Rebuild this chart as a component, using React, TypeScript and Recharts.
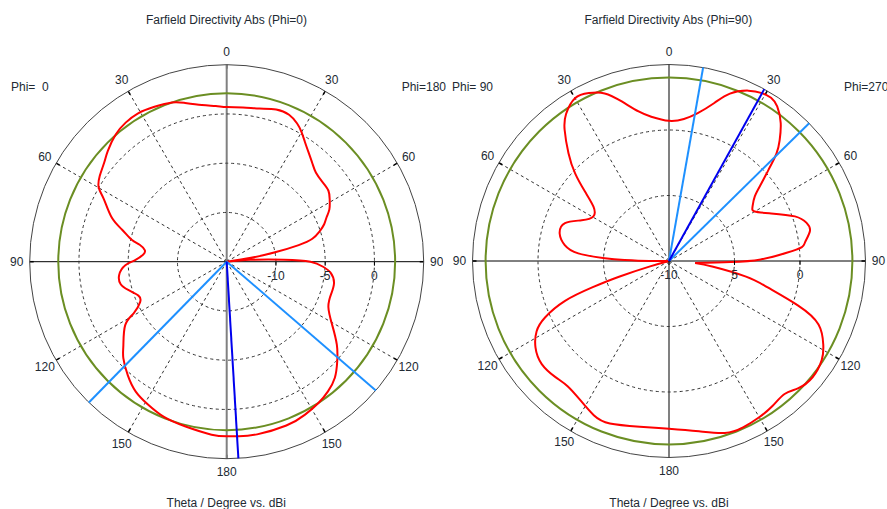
import React from 'react';
import { ScatterChart, Scatter, XAxis, YAxis, ReferenceLine, ReferenceDot } from 'recharts';

// angle = position on the dial, clockwise from the top (0..180 right half, 180..360 left half)

// Phi=0 / Phi=180 cut
const cut0Angle = [
  0, 6, 12, 18, 23, 27, 30, 33, 36, 41, 45, 50, 55, 59, 63, 66, 69, 72, 75, 77, 79, 81, 83,
  85.5, 88, 90, 93, 96, 101, 107, 114, 121, 127, 132, 137, 142, 147, 153, 160, 170, 176, 180,
  185, 194, 202, 209, 215, 221, 227, 231, 238, 241, 245, 249, 254, 258, 263, 268, 271, 275,
  278, 281, 283, 287, 291, 297, 300, 304, 309, 313, 319, 324, 329, 335, 341, 345, 351, 356,
];
const cut0Dbi = [
  0.7, 0.75, 0.9, 1.25, 1.2, 0.75, 0.2, -0.45, -1.0, -1.75, -2.2, -2.35, -2.4, -2.8, -3.3, -3.9,
  -4.4, -5.1, -6.0, -7.5, -10.0, -12.5, -15.0, -12.6, -9.2, -6.5, -5.2, -4.4, -3.9, -3.9, -3.7,
  -2.5, -1.0, 0.1, 1.1, 1.7, 2.1, 2.45, 2.7, 2.8, 2.77, 2.73, 2.63, 2.25, 2.0, 1.55, 1.1, 0.3,
  -0.65, -1.5, -2.85, -4.2, -5.3, -5.4, -4.6, -4.0, -4.0, -4.7, -5.7, -6.5, -6.6, -6.0, -5.1,
  -3.9, -2.5, -1.0, 0.0, 0.55, 1.0, 1.5, 2.15, 2.45, 2.55, 2.35, 2.1, 1.7, 1.1, 0.85,
];
// nulls where the trace has a corner
const cut0Nulls = [83];

// Phi=90 / Phi=270 cut
const cut90Angle = [
  0, 6, 11, 16, 20, 25, 29, 32, 35, 39, 42.5, 45, 47.5, 50, 53, 57, 60, 65, 70.5, 74.5, 78, 82,
  84, 86, 89, 91, 94.5, 97.5, 101.5, 105, 109, 113, 118.5, 123, 129, 134.5, 139, 144.5, 150, 156,
  162, 170, 180, 190, 200, 206, 212.5, 219, 224.5, 231, 237, 242, 245.5, 249, 251, 252.5, 254,
  256, 268, 270, 271.3, 272.4, 274.8, 278.7, 284, 290, 295, 300.5, 305.7, 309.5, 313, 317, 321.5,
  325, 330, 334.5, 339, 343.5, 348.5, 353,
];
const cut90Dbi = [
  0.7, 0.9, 1.5, 2.55, 3.6, 4.35, 4.65, 4.7, 4.4, 3.55, 2.5, 1.6, 0.3, -0.8, -1.8, -2.4, -2.45,
  -1.4, 0.2, 0.9, 1.0, 0.5, 0.2, -1.0, -3.0, -5.3, -8.0, -6.6, -4.0, -2.2, 0.4, 2.4, 3.4, 3.9,
  4.1, 3.85, 3.45, 3.6, 3.77, 3.9, 3.8, 3.2, 2.8, 2.84, 3.2, 3.1, 2.6, 2.3, 2.4, 2.5, 2.15, 1.45,
  0.4, -1.5, -3.8, -6.0, -8.5, -10, -10, -8.5, -6.6, -5.1, -3.05, -1.95, -1.4, -1.55, -2.65,
  -3.3, -2.9, -1.7, -0.2, 1.25, 2.8, 3.7, 4.35, 4.2, 3.7, 2.7, 1.65, 1.1,
];
const cut90Nulls = [94.5, 256, 268];

// main lobe direction and 3 dB angular width
const cut0Main = 176.6;
const cut0Width = [130.8, 224.4];
const cut90Main = 29;
const cut90Width = [10, 45.5];

// green level circle (dBi)
const cut0Level = 2.1;
const cut90Level = 4.0;

const thetaTicks = [0, 30, 60, 90, 120, 150, 180, 210, 240, 270, 300, 330];
const dashedSpokes = [30, 60, 120, 150, 210, 240, 300, 330];
const radialTicks = [-10, -5, 0];
const cut0RadialLabels = ['-10', '-5', '0'];
const cut90RadialLabels = ['-10', '5', '0'];

const H = 509;
const FONT = "'Liberation Sans', Arial, sans-serif";
const INK = '#222a33';

const toPoint = (angle: number, level: number) => {
  const t = (angle * Math.PI) / 180;
  return { x: level * Math.sin(t), y: level * Math.cos(t) };
};

// walk the closed trace starting at the first null, cutting it at every null
const splitTrace = (angles: number[], dbi: number[], nulls: number[]) => {
  const n = angles.length;
  const start = angles.indexOf(nulls[0]);
  const segs: { a: number; v: number }[][] = [[]];
  for (let k = 0; k <= n; k++) {
    const i = (start + k) % n;
    const p = { a: angles[i], v: dbi[i] };
    segs[segs.length - 1].push(p);
    if (k > 0 && k < n && nulls.includes(p.a)) segs.push([p]);
  }
  return segs;
};

const NoMark = () => <g />;

const ThetaLabel = (props: any) => (
  <text x={props.cx} y={props.cy} textAnchor="middle" dominantBaseline="central"
    fontSize={12} fontFamily={FONT} fill={INK}>{props.payload.label}</text>
);

const RadialLabel = (props: any) => (
  <g>
    <line x1={props.cx} y1={props.cy} x2={props.cx} y2={props.cy + 4} stroke="#000" />
    <text x={props.cx} y={props.cy + 14} textAnchor="middle" dominantBaseline="central"
      fontSize={12} fontFamily={FONT} fill={INK}>{props.payload.label}</text>
  </g>
);

interface PanelSpec {
  width: number;
  cx: number;
  cy: number;
  radius: number;
  minDb: number;
  maxDb: number;
  angles: number[];
  dbi: number[];
  nulls: number[];
  level: number;
  main: number;
  beam: number[];
  radialLabels: string[];
}

const PolarPanel = ({ spec }: { spec: PanelSpec }) => {
  const span = spec.maxDb - spec.minDb;
  const norm = (db: number) => (Math.max(db, spec.minDb) - spec.minDb) / span;
  const traces = splitTrace(spec.angles, spec.dbi, spec.nulls).map((seg) =>
    seg.map((p) => toPoint(p.a, norm(p.v))),
  );

  const R = spec.radius;
  const xDomain = [-spec.cx / R, (spec.width - spec.cx) / R];
  const yDomain = [-(H - spec.cy) / R, spec.cy / R];
  const labelR = 1 + 13 / R;
  const tickIn = 1 - 4 / R;
  const thetaData = thetaTicks.map((a) => ({
    ...toPoint(a, labelR),
    label: String(a <= 180 ? a : 360 - a),
  }));
  const radialData = radialTicks.map((t, i) => ({ x: norm(t), y: 0, label: spec.radialLabels[i] }));
  const rings = radialTicks.filter((t) => t > spec.minDb);
  const ray = (a: number) => [{ x: 0, y: 0 }, toPoint(a, 1)];

  return (
    <ScatterChart width={spec.width} height={H} margin={{ top: 0, right: 0, bottom: 0, left: 0 }}>
      <XAxis type="number" dataKey="x" domain={xDomain} hide allowDataOverflow />
      <YAxis type="number" dataKey="y" domain={yDomain} hide allowDataOverflow />
      {rings.map((t) => (
        <ReferenceDot key={'ring' + t} x={0} y={0} r={norm(t) * R} fill="none"
          stroke="#333" strokeDasharray="3 3" ifOverflow="visible" />
      ))}
      {dashedSpokes.map((a) => (
        <ReferenceLine key={'sp' + a} segment={ray(a)} stroke="#333" strokeDasharray="3 3" ifOverflow="visible" />
      ))}
      {thetaTicks.map((a) => (
        <ReferenceLine key={'tk' + a} segment={[toPoint(a, tickIn), toPoint(a, 1)]} stroke="#000"
          strokeWidth={1.5} ifOverflow="visible" />
      ))}
      <ReferenceDot x={0} y={0} r={R} fill="none" stroke="#444" ifOverflow="visible" />
      <ReferenceLine segment={[toPoint(0, 1), toPoint(180, 1)]} stroke="#808080" strokeWidth={2} ifOverflow="visible" />
      <ReferenceLine segment={[toPoint(270, 1), toPoint(90, 1)]} stroke="#000" ifOverflow="visible" />
      <ReferenceDot x={0} y={0} r={norm(spec.level) * R} fill="none" stroke="#6b8e23" strokeWidth={2} ifOverflow="visible" />
      {traces.map((seg, i) => (
        <Scatter key={'tr' + i} data={seg} fill="#ff0000" line={{ stroke: '#ff0000', strokeWidth: 2 }}
          lineJointType="natural" shape={NoMark} isAnimationActive={false} />
      ))}
      {spec.beam.map((a) => (
        <Scatter key={'bw' + a} data={ray(a)} fill="#1e90ff" line={{ stroke: '#1e90ff', strokeWidth: 2 }}
          shape={NoMark} isAnimationActive={false} />
      ))}
      <Scatter data={ray(spec.main)} fill="#0000ee" line={{ stroke: '#0000ee', strokeWidth: 2 }}
        shape={NoMark} isAnimationActive={false} />
      <Scatter data={thetaData} shape={ThetaLabel} isAnimationActive={false} />
      <Scatter data={radialData} shape={RadialLabel} isAnimationActive={false} />
    </ScatterChart>
  );
};

const textStyle: React.CSSProperties = {
  position: 'absolute',
  fontFamily: FONT,
  fontSize: 12,
  lineHeight: '14px',
  color: INK,
  whiteSpace: 'pre',
};

const Centered = ({ x, y, children }: { x: number; y: number; children: string }) => (
  <div style={{ ...textStyle, left: x, top: y - 7, transform: 'translateX(-50%)' }}>{children}</div>
);

const App = () => (
  <div style={{ position: 'absolute', left: 0, top: 0, width: 887, height: H, overflow: 'hidden', background: '#fff' }}>
    <div style={{ position: 'absolute', left: 0, top: 0 }}>
      <PolarPanel spec={{
        width: 443, cx: 226.7, cy: 261.7, radius: 197, minDb: -15, maxDb: 5,
        angles: cut0Angle, dbi: cut0Dbi, nulls: cut0Nulls, level: cut0Level, main: cut0Main,
        beam: cut0Width, radialLabels: cut0RadialLabels,
      }} />
    </div>
    <div style={{ position: 'absolute', left: 443, top: 0 }}>
      <PolarPanel spec={{
        width: 444, cx: 226, cy: 261, radius: 196.5, minDb: -10, maxDb: 5,
        angles: cut90Angle, dbi: cut90Dbi, nulls: cut90Nulls, level: cut90Level, main: cut90Main,
        beam: cut90Width, radialLabels: cut90RadialLabels,
      }} />
    </div>
    <Centered x={226.5} y={20}>Farfield Directivity Abs (Phi=0)</Centered>
    <Centered x={668.3} y={20}>Farfield Directivity Abs (Phi=90)</Centered>
    <div style={{ ...textStyle, left: 11, top: 80 }}>{'Phi=  0'}</div>
    <div style={{ ...textStyle, right: 887 - 446, top: 80 }}>{'Phi=180'}</div>
    <div style={{ ...textStyle, left: 452, top: 80 }}>{'Phi= 90'}</div>
    <div style={{ ...textStyle, left: 844, top: 80 }}>{'Phi=270'}</div>
    <Centered x={226.3} y={503}>Theta / Degree vs. dBi</Centered>
    <Centered x={669} y={503}>Theta / Degree vs. dBi</Centered>
  </div>
);

export default App;
